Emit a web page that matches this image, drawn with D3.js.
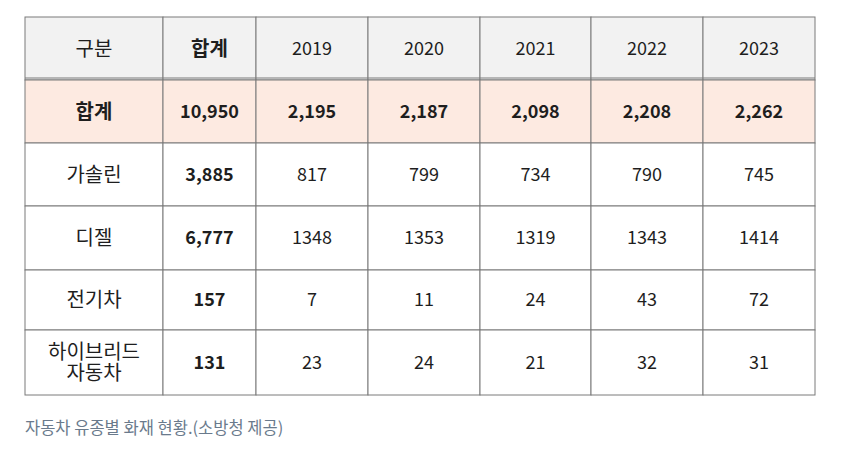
<!DOCTYPE html>
<html>
<head>
<meta charset="utf-8">
<script src="https://cdn.jsdelivr.net/npm/d3@7"></script>
<style>
  body { margin: 0; background: #fff; }
  text { font-family: "Noto Sans CJK KR", "Noto Sans", sans-serif; }
</style>
</head>
<body>
<div id="chart"></div>
<script>
// 표 데이터
const headers = ["구분", "합계", "2019", "2020", "2021", "2022", "2023"];
const categories = ["합계", "가솔린", "디젤", "전기차", "하이브리드\n자동차"];
const totals = ["10,950", "3,885", "6,777", "157", "131"];
const values2019 = ["2,195", "817", "1348", "7", "23"];
const values2020 = ["2,187", "799", "1353", "11", "24"];
const values2021 = ["2,098", "734", "1319", "24", "21"];
const values2022 = ["2,208", "790", "1343", "43", "32"];
const values2023 = ["2,262", "745", "1414", "72", "31"];
const caption = "자동차 유종별 화재 현황.(소방청 제공)";

const W = 850, H = 452;
const tableLeft = 25, tableTop = 17;
const colWidths = [138, 93, 112, 112, 111, 112, 112];
const rowHeights = [63, 63, 63, 64, 60, 65];

// 열/행 위치 스케일
const colX = d3.scaleOrdinal()
  .domain(headers)
  .range(Array.from(d3.cumsum([tableLeft, ...colWidths])).slice(0, headers.length));
const colW = d3.scaleOrdinal().domain(headers).range(colWidths);
const rowKeys = ["header", ...categories];
const rowY = d3.scaleOrdinal()
  .domain(rowKeys)
  .range(Array.from(d3.cumsum([tableTop, ...rowHeights])).slice(0, rowKeys.length));
const rowH = d3.scaleOrdinal().domain(rowKeys).range(rowHeights);

const svg = d3.select("#chart").append("svg")
  .attr("width", W).attr("height", H);

// 셀 목록 만들기
const series = [totals, values2019, values2020, values2021, values2022, values2023];
const cells = [];
headers.forEach((h, j) => cells.push({ row: "header", col: h, text: h, bold: h === "합계" }));
categories.forEach((c, i) => {
  cells.push({ row: c, col: headers[0], text: c, bold: i === 0 });
  series.forEach((s, k) => {
    cells.push({ row: c, col: headers[k + 1], text: s[i], bold: i === 0 || k === 0 });
  });
});

const fillFor = d => d.row === "header" ? "#f2f2f2" : (d.row === "합계" ? "#fdeae1" : "#ffffff");
const isHangul = s => /[가-힣]/.test(s);

const g = svg.selectAll("g.cell")
  .data(cells)
  .enter()
  .append("g")
  .attr("class", "cell")
  .attr("transform", d => "translate(" + colX(d.col) + "," + rowY(d.row) + ")");

g.append("rect")
  .attr("width", d => colW(d.col))
  .attr("height", d => rowH(d.row))
  .attr("fill", fillFor)
  .attr("stroke", "#7a7a7a")
  .attr("stroke-width", 1);

g.each(function (d) {
  const lines = d.text.split("\n");
  const lh = 21;
  const cy = rowH(d.row) / 2 - (lines.length - 1) * lh / 2;
  const t = d3.select(this).append("text")
    .attr("text-anchor", "middle")
    .attr("font-size", isHangul(d.text) ? 20 : 18)
    .attr("font-weight", d.bold ? 700 : 400)
    .attr("fill", "#1e1e1e");
  lines.forEach((l, i) => {
    t.append("tspan")
      .attr("x", colW(d.col) / 2)
      .attr("y", cy + i * lh)
      .attr("dy", "0.35em")
      .text(l);
  });
});

// 헤더 아래 이중선
const tableRight = colX(headers[headers.length - 1]) + colW(headers[headers.length - 1]);
svg.append("line")
  .attr("x1", tableLeft).attr("x2", tableRight)
  .attr("y1", rowY(categories[0]) - 2).attr("y2", rowY(categories[0]) - 2)
  .attr("stroke", "#7a7a7a");

// 캡션
svg.append("text")
  .attr("x", 25)
  .attr("y", 428)
  .attr("dy", "0.35em")
  .attr("font-size", 16.5)
  .attr("fill", "#6a7a8c")
  .text(caption);
</script>
</body>
</html>
